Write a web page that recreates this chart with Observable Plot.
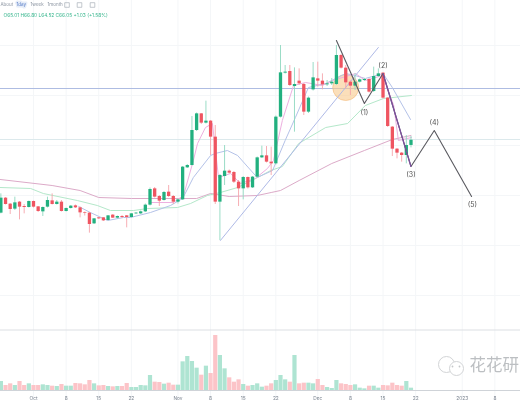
<!DOCTYPE html>
<html>
<head>
<meta charset="utf-8">
<script src="https://cdn.jsdelivr.net/npm/d3@7"></script>
<script src="https://cdn.jsdelivr.net/npm/@observablehq/plot@0.6"></script>
<style>
html,body{margin:0;padding:0;background:#fff;overflow:hidden}
svg{display:block;filter:blur(.4px)}
</style>
</head>
<body>
<div id="chart"></div>
<script>
const firstDay = -7;
const opens = [
51.47,54.47,53.27,52.27,53.67,52.8,52.6,53.8,52.73,51.73,
52.67,53.93,53.2,53.67,51.8,52.4,52.93,52.53,51.53,51.47,
49.33,50.53,50.53,50,51.07,50.47,50.8,50.93,50.6,51.33,
51.33,51.73,53.07,56.33,54.8,54,55.67,54.8,53.67,54.13,
60.53,61,68,71.33,69.47,69.87,66.67,53.67,58.8,59.87,
59.6,57.67,56.33,58.6,56.53,58.67,62.53,62.93,61.67,61.33,
70.67,79.47,79.8,76.8,77.87,77.2,71.67,76.13,78.33,77.87,
77.13,77.33,77.2,83,80.47,77.67,76.87,77.67,78,78.2,
75.8,78.8,79.47,74.47,68.67,64.27,63.47,63,65.01];
const closes = [
54.47,53.2,52.2,53.53,52.67,52.6,53.8,52.67,51.8,52.6,
54,53.2,53.67,51.8,52.4,52.87,52.53,51.53,51.4,49.2,
50.33,50.33,49.93,50.93,50.47,50.8,50.6,50.6,51.33,51.47,
51.73,53.07,56.2,54.67,53.87,55.6,54.8,53.67,54.13,60.67,
61,68,71.33,69.47,69.87,66.67,53.67,59,59.87,59.47,
57.67,56.33,58.6,56.53,58.67,62.53,62.93,61.67,61.33,70.67,
79.53,79.67,77,77.2,77.33,71.67,74.47,78.53,77.87,77.13,
77.33,77.67,83,80.47,77.53,76.87,77.67,78.13,78.2,75.67,
78.8,79.33,74.47,68.8,64.27,63.47,63,65,66.05];
const highs = [
55.33,54.6,53.4,54.67,53.8,53.2,53.9,53.9,52.8,52.7,
54.67,55.33,54,54,52.5,53,53.1,52.7,51.7,51.6,
50.4,50.6,50.6,51,51.2,50.9,51,51,51.4,51.6,
51.9,53.3,56.5,56.6,55,55.8,57,55,54.3,60.8,
61.2,70.8,71.5,71.4,73.87,70,69,59.2,65,60.1,
59.8,58,58.8,58.7,58.8,62.7,64.87,64.8,64.67,70.9,
85,81,81,80.53,80.33,77.4,74.7,81.6,81.67,79.33,
78,78.4,85,83.2,81,78,79.33,78.3,78.4,78.4,
80.67,80.33,79.6,74.6,68.8,64.4,63.6,67,66.8];
const lows = [
51.33,53.1,51.2,52,50.13,51.33,52.5,52.5,51.6,50.8,
52.5,53.1,53.1,51.7,51.7,52.3,52.4,50.53,50.9,47.47,
49.2,50.2,49.8,49.9,50.4,50.3,50.4,48.53,50.5,51.2,
51.2,51.6,52.9,54.5,52.8,53.9,54.6,53.2,53.3,54,
60.4,60.9,67.8,69.2,69.3,63,53.2,46,57,59.3,
57.4,52.8,54.13,56.3,56.4,58.5,62.4,61.5,59,61.1,
70.5,79.3,76.8,67.67,77,71,71.4,75.9,76.67,76.13,
76.8,77,77,80.3,76.33,75,76,77.5,77.8,75.5,
75.6,78.6,74.3,68.6,62.8,62.33,61.67,61.33,64.52];
const volumes = [
27,15,20,15,27,15,20,15,15,17,
15,13,12,18,13,13,21,20,17,30,
20,14,15,12,11,12,12,21,9,9,
15,14,45,25,24,19,22,16,16,86,
102,87,67,46,73,51,165,105,65,38,
25,32,18,13,15,20,10,13,20,30,
45,32,25,105,20,22,22,20,33,15,
9,6,30,20,18,15,17,7,5,13,
13,7,15,14,22,15,13,27,7];

const longMaDays = [-7.1,4,10,14,21,28,35,38,42,48,51,53,57,64,71,77,81];
const longMa = [58.2,57,56,54.6,54.4,54.4,54.4,55.4,54.8,55,55.6,56,58,61.4,64,66.2,67];
const greenMaDays = [-7.1,-0.6,2.1,9.4,13.7,16.5,21.5,24.5,30.9,33.7,37.3,40.1,43.8,48.1,50.9,53.4,56.9,62.7,67.4,71.2,75.1,81.1];
const greenMa = [56.6,56.4,55.4,54,53,52,52,52.4,52.6,53.4,55,55.6,56.6,58.6,60,60.8,65.4,68.6,69.4,73,74.4,75];
const blueMaDays = [9.7,12.2,15.9,19.3,20.8,25.1,29.4,32,34.3,38,39,41.6,43.8,48,51.3,54,56.2,59,62.7,67,69,71.2,75,77,80.9];
const blueMa = [52.8,51.6,50,50.6,50.6,51.6,53,54.4,58.6,63,63.4,64,63,58.6,60,66,70.6,76.6,77.4,79.4,79,78.4,79.4,76.6,70.2];
const pinkMaDays = [25.1,30,32.2,34.3,35.2,36.9,38.4,39.7,42.3,44.4,47.6,50.2,51.5,53.4,55.8,58.4,62,64.2,69.1,71.2,74.9,77.3,78.3,81.1];
const pinkMa = [53.6,53.6,55,62,65.4,68.6,69.4,58.6,59.4,57.4,58.4,60.4,62,70,77,77.6,77,78,79.4,78,79,73,66,66.6];

const trendDays = [40.1,74];
const trendPrices = [46,84.6];
const waveDays = [65,71,75,81,86,94];
const wavePrices = [86,73.4,79.4,60.8,68,54.8];
const waveLabels = ["(1)","(2)","(3)","(4)","(5)"];
const waveLabelDays = [71,75,81,86,94.2];
const waveLabelPrices = [71.6,81,59.2,69.6,53.2];
const blueLevel = 76.4;
const paleLevel = 66.2;
const circleDay = 67;
const circlePrice = 76.6;

const tickDays = [0,7,14,21,31,38,45,52,61,68,75,82,92,99];
const tickLabels = ["Oct","8","15","22","Nov","8","15","22","Dec","8","15","22","2023","8"];
const gridPrices = [85,75,65,55,45,35];
const legendText = "O65.01 H66.80 L64.52 C66.05 +1.03 (+1.58%)";

const day = i => new Date(Date.UTC(2022,9,1) + i*864e5);
const xDomain = [day(-7.08), day(104.5)];
const UP="#22b07f", DOWN="#ef5561", VUP="#aee4d2", VDOWN="#fcc4c8";
const candles = opens.map((o,k)=>({date:day(firstDay+k),o,h:highs[k],l:lows[k],c:closes[k],v:volumes[k],up:closes[k]>=o}));
const series = (ds,ps)=>ds.map((d,k)=>({date:day(d),p:ps[k]}));
const ticks = tickDays.map(day);
const tickLabel = new Map(ticks.map((d,k)=>[+d,tickLabels[k]]));
const ink = "Inter, 'DejaVu Sans', sans-serif";

const price = Plot.plot({
  width:520, height:329, margin:0,
  style:{background:"#fff",fontFamily:ink},
  x:{type:"utc",domain:xDomain,range:[0,520],axis:null},
  y:{domain:[28.2,94],range:[329,0],axis:null},
  marks:[
    Plot.ruleX(ticks,{stroke:"#f4f6f8",strokeWidth:1}),
    Plot.ruleY(gridPrices,{stroke:"#f4f6f8",strokeWidth:1}),
    Plot.ruleY([paleLevel],{stroke:"#dce9ec",strokeWidth:1}),
    Plot.ruleY([blueLevel],{stroke:"#aebce2",strokeWidth:1}),
    Plot.dot([{d:day(circleDay),p:circlePrice}],{x:"d",y:"p",r:13,fill:"#f9c98c",fillOpacity:.6,stroke:"#f3b877",strokeWidth:.6}),
    Plot.line(series(longMaDays,longMa),{x:"date",y:"p",stroke:"#dcaac8",strokeWidth:1}),
    Plot.line(series(greenMaDays,greenMa),{x:"date",y:"p",stroke:"#b4e8ca",strokeWidth:1}),
    Plot.line(series(blueMaDays,blueMa),{x:"date",y:"p",stroke:"#b4c2e8",strokeWidth:1}),
    Plot.line(series(pinkMaDays,pinkMa),{x:"date",y:"p",stroke:"#edb0e0",strokeWidth:1}),
    Plot.line(series(trendDays,trendPrices),{x:"date",y:"p",stroke:"#aeb9e6",strokeWidth:1}),
    Plot.ruleX(candles,{x:"date",y1:"l",y2:"h",stroke:d=>d.up?"#8fd8bf":"#f6a5ab",strokeWidth:.9}),
    Plot.ruleX(candles,{x:"date",y1:"o",y2:"c",stroke:d=>d.up?UP:DOWN,strokeWidth:3.3}),
    Plot.line(series(waveDays,wavePrices),{x:"date",y:"p",stroke:"#5a5a60",strokeWidth:1.1}),
    Plot.line(series(waveDays.slice(2,4),wavePrices.slice(2,4)),{x:"date",y:"p",stroke:"#7d4f9f",strokeWidth:1.2}),
    Plot.text(waveLabels,{x:(d,k)=>day(waveLabelDays[k]),y:(d,k)=>waveLabelPrices[k],text:d=>d,fontSize:7,fill:"#555"}),
    Plot.text(["About"],{frameAnchor:"top-left",dx:0,dy:2,fontSize:4.5,fill:"#8a93a0"}),
    Plot.text(["1day"],{frameAnchor:"top-left",dx:16,dy:2,fontSize:4.5,fill:"#5b7fc8",stroke:"#e6edf8",strokeWidth:3,paintOrder:"stroke"}),
    Plot.text(["1week"],{frameAnchor:"top-left",dx:30,dy:2,fontSize:4.5,fill:"#8a93a0"}),
    Plot.text(["1month"],{frameAnchor:"top-left",dx:47,dy:2,fontSize:4.5,fill:"#8a93a0"}),
    Plot.dot(["i1"],{frameAnchor:"top-left",dx:66.5,dy:4.5,symbol:"square",r:2.6,stroke:"#9aa2ac",strokeWidth:.6,fill:"none"}),
    Plot.dot(["i2"],{frameAnchor:"top-left",dx:79,dy:4.5,symbol:"square",r:2.6,stroke:"#9aa2ac",strokeWidth:.6,fill:"none"}),
    Plot.dot(["i3"],{frameAnchor:"top-left",dx:92,dy:4.5,symbol:"square",r:2.6,stroke:"#9aa2ac",strokeWidth:.6,fill:"none"}),
    Plot.text([legendText],{frameAnchor:"top-left",dx:3,dy:13,fontSize:4.8,fill:"#35b58c"})
  ]
});

const volume = Plot.plot({
  width:520, height:71, margin:0,
  style:{background:"#fff",fontFamily:ink},
  x:{type:"utc",domain:xDomain,range:[0,520],axis:null},
  y:{domain:[0,165],range:[61,6],axis:null},
  marks:[
    Plot.ruleX(ticks,{stroke:"#f4f6f8",strokeWidth:1}),
    Plot.ruleY([165*1.1],{stroke:"#dcdfe3",strokeWidth:1}),
    Plot.ruleX(candles,{x:"date",y1:0,y2:"v",stroke:d=>d.up?VUP:VDOWN,strokeWidth:4.2}),
    Plot.ruleY([0],{stroke:"#cfd3d8",strokeWidth:1}),
    Plot.text(ticks,{x:d=>d,y:-25,text:d=>tickLabel.get(+d),fontSize:4.8,fill:"#7b8490"}),
    Plot.dot(["logoA"],{frameAnchor:"top-left",dx:446,dy:35,r:8,stroke:"#d2d4d6",strokeWidth:1,fill:"#fff"}),
    Plot.dot(["logoB"],{frameAnchor:"top-left",dx:456,dy:39,r:7,stroke:"#d2d4d6",strokeWidth:1,fill:"#fff"}),
    Plot.dot(["eye1"],{frameAnchor:"top-left",dx:452,dy:37,r:.9,fill:"#c4c7c9"}),
    Plot.dot(["eye2"],{frameAnchor:"top-left",dx:459,dy:37,r:.9,fill:"#c4c7c9"}),
    Plot.text(["花花研"],{frameAnchor:"top-left",dx:469,dy:30,textAnchor:"start",fontSize:16.5,fontFamily:"'Noto Sans CJK SC'",fill:"#bcbfc2"})
  ]
});

const host = document.getElementById("chart");
host.append(price, volume);
</script>
</body>
</html>
